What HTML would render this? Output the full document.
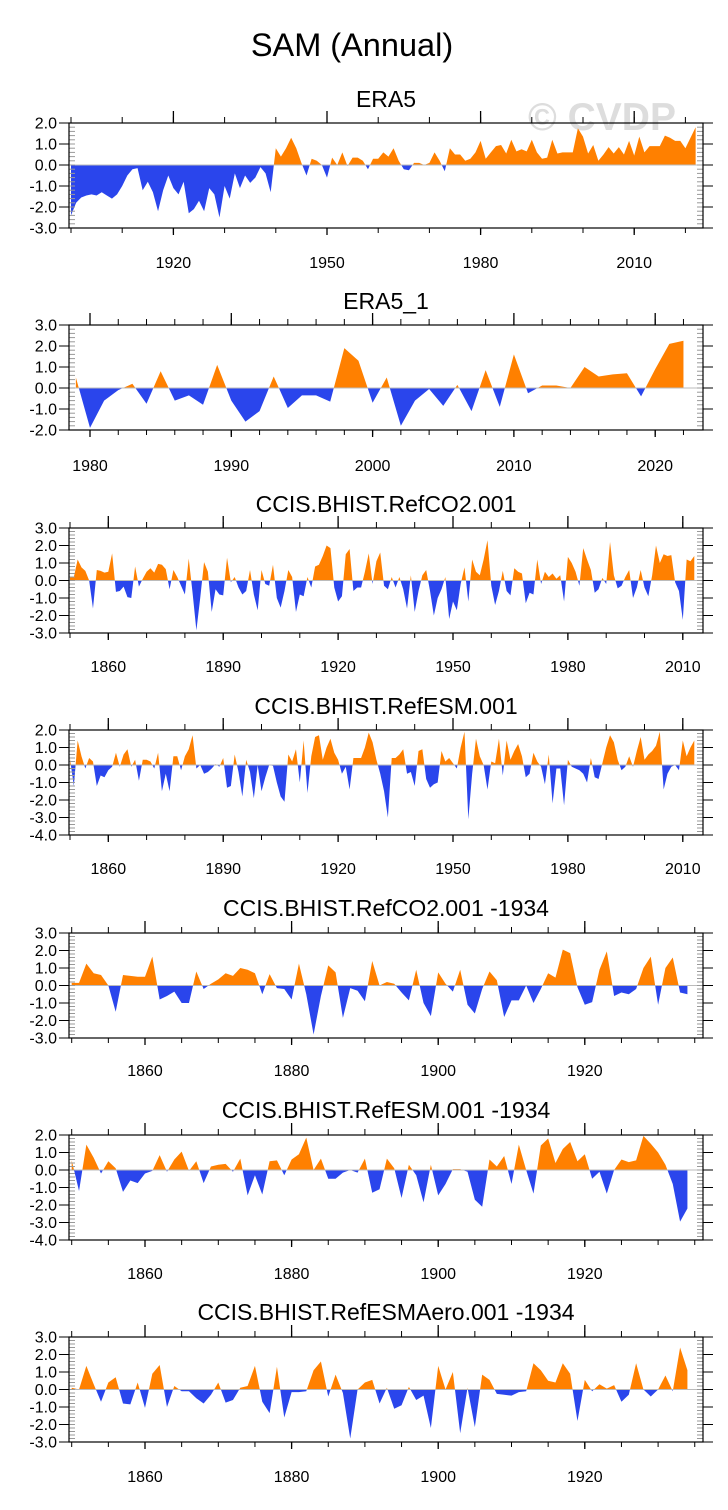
<!DOCTYPE html>
<html><head><meta charset="utf-8">
<style>
html,body{margin:0;padding:0;background:#fff;}
svg{display:block;font-family:"Liberation Sans",Arial,sans-serif;}
</style></head>
<body>
<svg id="chart" xmlns="http://www.w3.org/2000/svg" width="728" height="1510" viewBox="0 0 728 1510">
<text x="352" y="56" font-size="32.5" text-anchor="middle" fill="#000">SAM (Annual)</text>
<text x="602" y="130" font-size="39" font-weight="bold" text-anchor="middle" fill="#dddddd">© CVDP</text>
</svg>
<script>
// ---- Panel data (annual SAM index values) ----
const era5Start = 1900;
const era5Values = [-2.4,-1.8,-1.55,-1.45,-1.4,-1.45,-1.3,-1.45,-1.6,-1.4,-1.0,-0.5,-0.2,-0.15,-1.2,-0.8,-1.3,-2.2,-1.2,-0.5,
-1.1,-1.4,-0.8,-2.3,-2.1,-1.7,-2.2,-1.1,-1.4,-2.5,-1.0,-1.6,-0.4,-1.1,-0.5,-0.85,-0.6,-0.1,-0.4,-1.3,
0.8,0.4,0.8,1.3,0.8,0.1,-0.5,0.3,0.2,0.0,-0.6,0.35,0.0,0.6,-0.05,0.35,0.35,0.2,-0.2,0.3,
0.3,0.6,0.4,0.8,0.2,-0.2,-0.25,0.1,0.1,0.0,0.1,0.6,0.2,-0.3,0.8,0.5,0.5,0.2,0.3,0.6,
1.15,0.3,0.6,0.9,0.95,0.55,1.2,0.65,0.75,0.65,1.2,0.6,0.3,0.35,1.2,0.55,0.6,0.6,0.6,1.75,
1.35,0.55,0.95,0.2,0.5,0.85,0.55,0.85,0.5,1.15,0.45,1.35,0.6,0.9,0.9,0.9,1.4,1.3,1.15,1.15,
0.8,1.3,1.8];

const era51Start = 1979;
const era51Values = [0.5,-1.9,-0.6,-0.1,0.2,-0.75,0.8,-0.6,-0.35,-0.8,1.1,-0.6,-1.6,-1.1,0.55,-0.95,-0.35,-0.35,-0.65,1.9,
1.3,-0.7,0.5,-1.8,-0.6,-0.05,-0.85,0.15,-1.1,0.85,-0.9,1.6,-0.25,0.12,0.12,0.0,1.0,0.55,0.65,0.7,
-0.4,0.9,2.1,2.25];

const co2Start = 1850;
const co2Values = [0.2,0.2,1.2,0.75,0.55,0.0,-1.6,0.6,0.55,0.45,0.5,1.55,-0.65,-0.6,-0.35,-0.95,-1.0,0.8,-0.35,0.1,
0.5,0.7,0.45,0.95,0.9,0.65,-0.5,0.6,0.2,-0.3,-0.8,1.25,-0.7,-2.85,-1.0,1.05,0.5,-1.8,-0.5,-0.8,
-0.85,1.3,-0.1,0.2,-0.4,-0.8,-0.6,0.6,-0.8,-1.7,0.6,-0.2,-0.3,0.9,-1.0,-1.55,-0.6,0.6,0.2,-1.8,
-0.8,-0.9,0.2,-0.4,0.8,0.9,1.4,2.0,1.85,-0.4,-1.2,-0.9,1.5,1.8,-0.6,-0.4,-0.4,0.5,1.55,-0.2,
1.1,1.6,-0.3,-0.5,0.2,-0.4,0.2,-0.5,-1.6,0.3,-1.8,-0.6,0.3,0.6,-0.6,-2.0,-1.0,-0.5,0.2,-2.2,
-1.2,-1.7,-0.2,0.75,-1.2,1.2,0.5,0.3,1.2,2.3,-0.3,-1.4,-0.6,0.55,-0.6,-0.85,0.7,0.5,0.4,-1.3,
-0.7,-0.8,1.2,-0.2,0.5,0.2,0.4,0.1,0.3,-1.2,1.35,1.0,0.5,-0.3,1.85,1.2,0.6,-0.7,-0.5,0.15,
-0.2,2.2,0.3,-0.45,-0.3,0.2,0.6,-1.0,-0.4,0.6,-0.4,-0.9,0.3,2.0,1.0,1.5,1.4,1.45,-0.1,-0.6,
-2.25,1.2,1.1,1.4];

const esmStart = 1850;
const esmValues = [0.35,-1.2,1.4,0.5,-0.2,0.4,0.2,-1.2,-0.6,-0.7,-0.3,-0.1,0.7,-0.1,0.6,0.9,-0.1,0.3,-0.9,0.3,
0.3,0.2,-0.2,0.7,-1.5,-0.5,-1.5,0.5,0.5,-0.3,0.5,0.9,1.7,-0.2,0.0,-0.5,-0.4,-0.2,0.05,-0.1,
0.4,-1.3,-1.2,0.6,-0.4,-1.8,0.3,-0.4,-1.9,0.0,-1.5,-0.7,0.0,-0.05,-1.0,-1.8,-2.1,0.6,0.2,0.9,
-1.0,1.4,-1.6,0.5,1.6,1.7,0.3,1.0,1.5,0.7,0.3,-0.5,-0.1,-1.4,0.4,0.4,0.4,1.0,1.85,1.3,
0.3,-0.5,-1.5,-3.0,0.4,0.4,0.6,0.9,-0.5,-0.4,-1.2,0.8,0.9,-0.8,-1.3,-1.1,-1.0,0.8,0.2,0.4,
0.1,-0.2,1.0,1.9,-3.1,-0.5,1.5,0.5,0.0,-1.4,0.2,0.1,1.5,-0.6,1.4,0.3,0.8,1.2,0.5,-0.7,
-0.5,0.7,0.2,-0.1,-1.1,0.6,-2.2,-0.2,-0.2,-2.3,0.3,-0.1,-0.2,-0.3,-0.5,-1.0,0.4,-0.7,-0.8,0.1,
1.0,1.7,1.3,0.3,-0.3,-0.1,0.5,-0.1,0.8,1.6,0.3,0.6,0.8,1.1,1.9,-1.4,-0.5,-0.1,0.0,-0.3,
1.4,0.5,1.0,1.4];

const co2_1934Start = 1850;
const co2_1934Values = [0.15,0.15,1.25,0.7,0.6,0.0,-1.5,0.6,0.55,0.5,0.5,1.65,-0.8,-0.6,-0.35,-1.0,-1.0,0.8,-0.2,0.1,
0.35,0.7,0.55,1.0,0.9,0.7,-0.5,0.65,-0.15,-0.2,-0.8,1.25,-0.5,-2.8,-0.6,1.15,0.75,-1.85,-0.15,-0.3,
-0.9,1.4,0.0,0.2,0.1,-0.4,-0.85,0.9,-1.0,-1.75,0.75,0.1,-0.35,0.9,-1.1,-1.6,-0.2,0.8,0.3,-1.8,
-0.85,-0.85,0.0,-1.0,-0.2,0.7,0.45,2.05,1.85,-0.1,-1.1,-0.95,0.9,1.95,-0.6,-0.4,-0.5,-0.2,1.0,1.65,
-1.1,1.0,1.6,-0.4,-0.5];

const esm_1934Start = 1850;
const esm_1934Values = [0.55,-1.2,1.45,0.7,-0.2,0.5,0.1,-1.25,-0.6,-0.75,-0.2,-0.05,0.85,-0.1,0.6,1.05,-0.05,0.5,-0.75,0.2,
0.3,0.35,-0.1,0.65,-1.45,-0.3,-1.4,0.5,0.55,-0.3,0.6,0.9,1.85,0.0,0.65,-0.5,-0.5,-0.15,0.0,-0.15,
0.65,-1.3,-1.1,0.65,0.1,-1.6,0.3,-0.3,-1.85,0.3,-1.45,-0.8,0.05,0.05,-0.1,-1.7,-2.1,0.6,0.2,0.8,
-0.8,1.45,0.0,-1.35,1.4,1.8,0.4,1.2,1.6,0.5,0.9,-0.5,-0.1,-1.35,0.0,0.6,0.45,0.55,1.95,1.5,
1.0,0.3,-0.8,-2.95,-2.2];

const aeroStart = 1850;
const aeroValues = [0.1,0.0,1.35,0.3,-0.7,0.4,0.7,-0.8,-0.85,0.4,-1.05,0.9,1.4,-1.0,0.2,-0.1,-0.1,-0.5,-0.8,-0.3,
0.4,-0.75,-0.6,0.1,0.2,1.35,-0.7,-1.35,1.3,-1.6,-0.15,-0.15,-0.1,1.1,1.6,-0.4,0.85,-0.2,-2.8,0.0,
0.4,0.55,-0.8,0.1,-1.1,-0.9,0.15,-0.6,-0.35,-2.2,1.35,0.0,1.0,-2.5,0.1,-2.15,0.85,0.55,-0.25,-0.3,
-0.35,-0.15,-0.1,1.5,1.1,0.5,0.4,1.5,0.9,-1.8,0.55,-0.1,0.3,0.05,0.25,-0.7,-0.3,1.5,0.0,-0.4,
0.0,0.8,-0.1,2.4,1.1];

// ---- Tick label arrays ----
const yTicks3 = ["3.0","2.0","1.0","0.0","-1.0","-2.0","-3.0"];
const yTicks2 = ["2.0","1.0","0.0","-1.0","-2.0","-3.0"];
const yTicks24 = ["2.0","1.0","0.0","-1.0","-2.0","-3.0","-4.0"];
const yTicks32 = ["3.0","2.0","1.0","0.0","-1.0","-2.0"];
const xMajor1 = [1920,1950,1980,2010];
const xMajor2 = [1980,1990,2000,2010,2020];
const xMajorLong = [1860,1890,1920,1950,1980,2010];
const xMajorShort = [1860,1880,1900,1920];

const NS = "http://www.w3.org/2000/svg";
const svg = document.getElementById('chart');
const ORANGE = "#ff8000", BLUE = "#2a45ec";

function mk(tag, attrs, parent) {
  const e = document.createElementNS(NS, tag);
  for (const k in attrs) e.setAttribute(k, attrs[k]);
  (parent || svg).appendChild(e);
  return e;
}

const panels = [
  {name:"era5", title:"ERA5", start:era5Start, values:era5Values, top:123, bottom:228, ymax:2, ymin:-3, yt:yTicks2,
   x0year:1900, x0px:71, pxPerYr:5.12, xmin:1897, xmax:2027, major:xMajor1, minorStep:10, titleY:107, labY:268},
  {name:"era5-1", title:"ERA5_1", start:era51Start, values:era51Values, top:325, bottom:430, ymax:3, ymin:-2, yt:yTicks32,
   x0year:1980, x0px:90, pxPerYr:14.13, xmin:1978, xmax:2024, major:xMajor2, minorStep:2, titleY:309, labY:471},
  {name:"refco2", title:"CCIS.BHIST.RefCO2.001", start:co2Start, values:co2Values, top:528, bottom:633, ymax:3, ymin:-3, yt:yTicks3,
   x0year:1850, x0px:70, pxPerYr:3.83, xmin:1850, xmax:2020, major:xMajorLong, minorStep:10, titleY:512, labY:672},
  {name:"refesm", title:"CCIS.BHIST.RefESM.001", start:esmStart, values:esmValues, top:730, bottom:835, ymax:2, ymin:-4, yt:yTicks24,
   x0year:1850, x0px:70, pxPerYr:3.83, xmin:1850, xmax:2020, major:xMajorLong, minorStep:10, titleY:714, labY:874},
  {name:"refco2-1934", title:"CCIS.BHIST.RefCO2.001 -1934", start:co2_1934Start, values:co2_1934Values, top:933, bottom:1038, ymax:3, ymin:-3, yt:yTicks3,
   x0year:1850, x0px:71.7, pxPerYr:7.33, xmin:1850, xmax:1935, major:xMajorShort, minorStep:5, titleY:916, labY:1076},
  {name:"refesm-1934", title:"CCIS.BHIST.RefESM.001 -1934", start:esm_1934Start, values:esm_1934Values, top:1135, bottom:1240, ymax:2, ymin:-4, yt:yTicks24,
   x0year:1850, x0px:71.7, pxPerYr:7.33, xmin:1850, xmax:1935, major:xMajorShort, minorStep:5, titleY:1118, labY:1279},
  {name:"refesmaero-1934", title:"CCIS.BHIST.RefESMAero.001 -1934", start:aeroStart, values:aeroValues, top:1337, bottom:1442, ymax:3, ymin:-3, yt:yTicks3,
   x0year:1850, x0px:71.7, pxPerYr:7.33, xmin:1850, xmax:1935, major:xMajorShort, minorStep:5, titleY:1320, labY:1482}
];

const L = 69, R = 703;

panels.forEach((p, pi) => {
  const g = mk('g', {});
  
  
  const xs = yr => p.x0px + (yr - p.x0year) * p.pxPerYr;
  const ys = v => p.top + (p.ymax - v) * (p.bottom - p.top) / (p.ymax - p.ymin);
  const zy = ys(0);

  const t = mk('text', {x:386, y:p.titleY, 'font-size':23, 'text-anchor':'middle', fill:'#000'}, g);
  
  
  t.textContent = p.title;

  const defs = mk('defs', {}, g);
  const cpA = mk('clipPath', {id:'ca'+pi}, defs);
  mk('rect', {x:L, y:p.top, width:R-L, height:zy-p.top}, cpA);
  const cpB = mk('clipPath', {id:'cb'+pi}, defs);
  mk('rect', {x:L, y:zy, width:R-L, height:p.bottom-zy}, cpB);

  let d = 'M' + xs(p.start).toFixed(2) + ',' + zy.toFixed(2);
  p.values.forEach((v, i) => { d += 'L' + xs(p.start + i).toFixed(2) + ',' + ys(v).toFixed(2); });
  d += 'L' + xs(p.start + p.values.length - 1).toFixed(2) + ',' + zy.toFixed(2) + 'Z';
  const pa = mk('path', {d:d, fill:ORANGE, 'clip-path':'url(#ca'+pi+')'}, g);
  
  
  const pb = mk('path', {d:d, fill:BLUE, 'clip-path':'url(#cb'+pi+')'}, g);
  
  

  const zl = mk('line', {x1:L, x2:R, y1:zy, y2:zy, stroke:'#bbbbbb', 'stroke-width':1}, g);
  
  

  for (let v = p.ymin; v <= p.ymax + 1e-6; v += 0.2) {
    const y = ys(v);
    mk('line', {x1:L, x2:L+6, y1:y, y2:y, stroke:'#999', 'stroke-width':1}, g);
    mk('line', {x1:R-6, x2:R, y1:y, y2:y, stroke:'#999', 'stroke-width':1}, g);
  }
  p.yt.forEach(lab => {
    const v = parseFloat(lab);
    const y = ys(v);
    mk('line', {x1:L-10, x2:L, y1:y, y2:y, stroke:'#000', 'stroke-width':1}, g);
    mk('line', {x1:R, x2:R+10, y1:y, y2:y, stroke:'#000', 'stroke-width':1}, g);
    const tl = mk('text', {x:L-12, y:y+5.5, 'font-size':16, 'text-anchor':'end', fill:'#000'}, g);
    
    
    tl.textContent = lab;
  });
  const firstMinor = Math.ceil(p.xmin / p.minorStep) * p.minorStep;
  for (let yr = firstMinor; yr <= p.xmax; yr += p.minorStep) {
    const x = xs(yr);
    if (x < L || x > R) continue;
    mk('line', {x1:x, x2:x, y1:p.bottom, y2:p.bottom+5, stroke:'#000', 'stroke-width':1}, g);
    mk('line', {x1:x, x2:x, y1:p.top-6, y2:p.top, stroke:'#000', 'stroke-width':1}, g);
  }
  p.major.forEach(yr => {
    const x = xs(yr);
    mk('line', {x1:x, x2:x, y1:p.bottom, y2:p.bottom+7, stroke:'#000', 'stroke-width':1.3}, g);
    mk('line', {x1:x, x2:x, y1:p.top-12, y2:p.top, stroke:'#000', 'stroke-width':1.3}, g);
    const tl = mk('text', {x:x, y:p.labY, 'font-size':16, 'text-anchor':'middle', fill:'#000'}, g);
    
    
    tl.textContent = yr;
  });
  const fr = mk('rect', {x:L, y:p.top, width:R-L, height:p.bottom-p.top, fill:'none', stroke:'#000', 'stroke-width':1.2}, g);
  
  
});
</script>
</body></html>
